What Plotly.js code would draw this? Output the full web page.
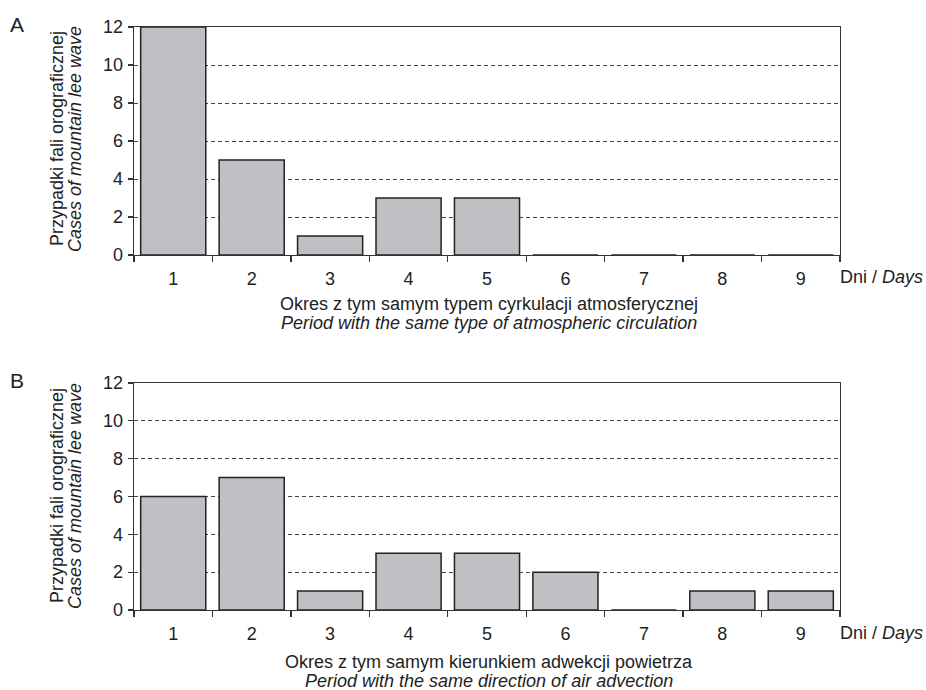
<!DOCTYPE html>
<html>
<head>
<meta charset="utf-8">
<script src="https://cdn.plot.ly/plotly-3.0.1.min.js"></script>
<style>html,body{margin:0;padding:0;background:#fff;}#chart{width:926px;height:690px;}</style>
</head>
<body>
<div id="chart"></div>
<script>
const days = ['1','2','3','4','5','6','7','8','9'];
const casesCirculation = [12, 5, 1, 3, 3, 0, 0, 0, 0];
const casesAdvection = [6, 7, 1, 3, 3, 2, 0, 1, 1];
const yTitlePl = 'Przypadki fali orograficznej';
const yTitleEn = '<i>Cases of mountain lee wave</i>';
const xTitleAPl = 'Okres z tym samym typem cyrkulacji atmosferycznej';
const xTitleAEn = '<i>Period with the same type of atmospheric circulation</i>';
const xTitleBPl = 'Okres z tym samym kierunkiem adwekcji powietrza';
const xTitleBEn = '<i>Period with the same direction of air advection</i>';
const unitLabel = 'Dni / <i>Days</i>';
const panelLabels = ['A', 'B'];

const FAM = 'Liberation Sans, Arial, sans-serif';
const font = {family: FAM, size: 18, color: '#222'};
const barStyle = {color: '#bfc0c3', line: {color: '#222', width: 1.5}};

const traces = [
  {type: 'bar', x: days, y: casesCirculation, xaxis: 'x', yaxis: 'y', marker: barStyle},
  {type: 'bar', x: days, y: casesAdvection, xaxis: 'x2', yaxis: 'y2', marker: barStyle}
];

const XD = [134/926, 840/926];
function xAxis(anchor) {
  return {
    type: 'category', domain: XD, anchor: anchor, range: [-0.5, 8.5],
    tickson: 'boundaries', ticks: 'outside', ticklen: 6, tickwidth: 1.3, tickcolor: '#333',
    ticklabelstandoff: 7,
    showline: true, linecolor: '#333', linewidth: 1.3, mirror: true, showgrid: false,
    tickfont: font, fixedrange: true
  };
}
function yAxis(domain, anchor) {
  return {
    domain: domain, anchor: anchor, range: [0, 12], dtick: 2, tick0: 0,
    ticks: 'outside', ticklen: 5, tickwidth: 1.3, tickcolor: '#333',
    ticklabelstandoff: 1,
    showline: true, linecolor: '#333', linewidth: 1.3, mirror: true,
    showgrid: true, gridcolor: '#444', griddash: '4px,3px', gridwidth: 1,
    zeroline: false, tickfont: font, fixedrange: true
  };
}

function py(p) { return 1 - p / 690; }
function px(p) { return p / 926; }
function ann(text, x, y, opts) {
  return Object.assign({text: text, xref: 'paper', yref: 'paper', x: px(x), y: py(y),
    xanchor: 'center', yanchor: 'middle', showarrow: false, font: font}, opts || {});
}

const annotations = [
  ann(panelLabels[0], 8, 24, {xanchor: 'left', font: {family: FAM, size: 21, color: '#222'}}),
  ann(panelLabels[1], 8, 380, {xanchor: 'left', font: {family: FAM, size: 21, color: '#222'}}),
  ann(unitLabel, 838, 277, {xanchor: 'left'}),
  ann(unitLabel, 838, 633, {xanchor: 'left'}),
  ann(xTitleAPl, 489, 304),
  ann(xTitleAEn, 489, 323),
  ann(xTitleBPl, 489, 662),
  ann(xTitleBEn, 489, 681),
  ann(yTitlePl, 57, 139, {textangle: -90}),
  ann(yTitleEn, 75, 139, {textangle: -90}),
  ann(yTitlePl, 57, 496, {textangle: -90}),
  ann(yTitleEn, 75, 496, {textangle: -90})
];

const layout = {
  width: 926, height: 690,
  margin: {l: 0, r: 0, t: 0, b: 0},
  paper_bgcolor: '#fff', plot_bgcolor: '#fff',
  showlegend: false, bargap: 0.17,
  font: font,
  xaxis: xAxis('y'),
  yaxis: yAxis([py(255), py(27)], 'x'),
  xaxis2: xAxis('y2'),
  yaxis2: yAxis([py(610), py(383)], 'x2'),
  annotations: annotations
};

Plotly.newPlot('chart', traces, layout, {displayModeBar: false, staticPlot: true});
</script>
</body>
</html>
